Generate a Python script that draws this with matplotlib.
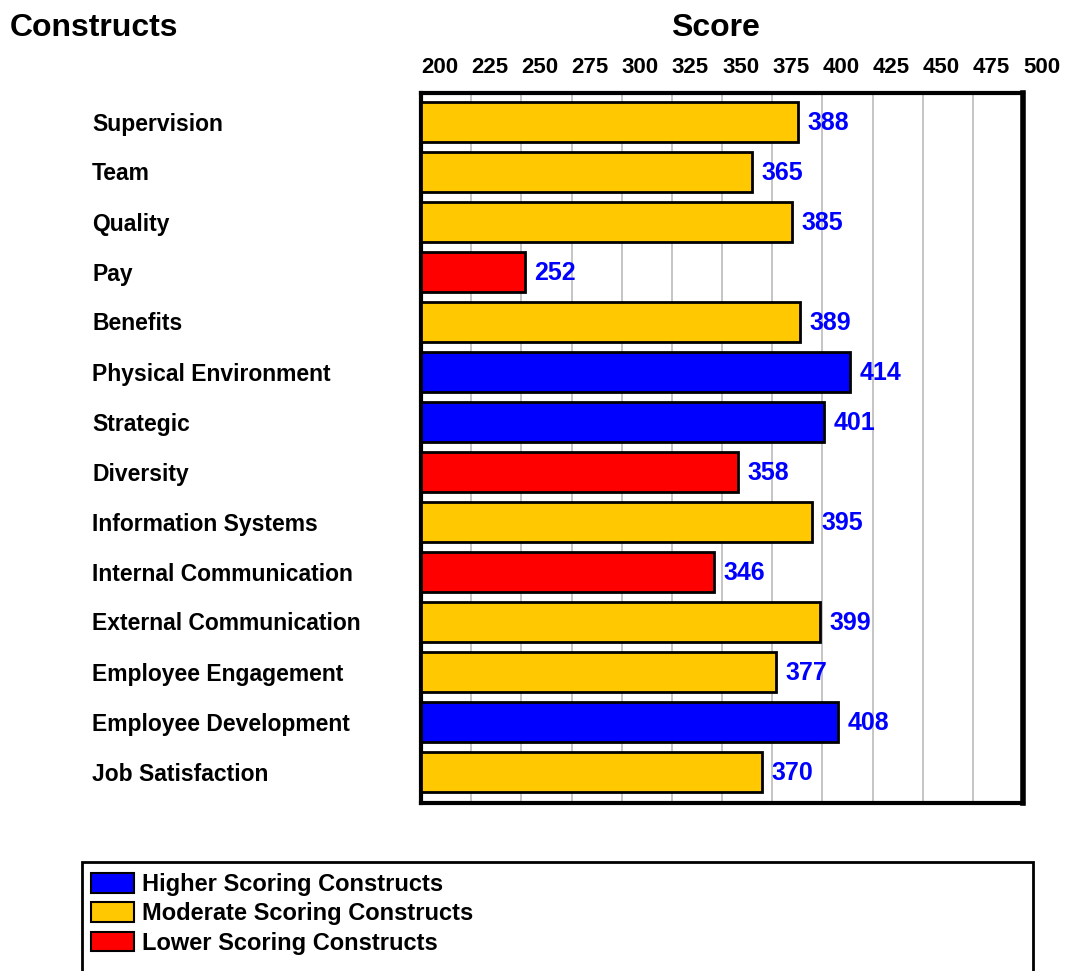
import matplotlib.pyplot as plt
from matplotlib.patches import Rectangle, Patch

plt.rcParams['font.family'] = ['Liberation Sans', 'DejaVu Sans']
plt.rcParams['font.weight'] = 'bold'

constructs = ["Supervision", "Team", "Quality", "Pay", "Benefits",
              "Physical Environment", "Strategic", "Diversity",
              "Information Systems", "Internal Communication",
              "External Communication", "Employee Engagement",
              "Employee Development", "Job Satisfaction"]
scores = [388, 365, 385, 252, 389, 414, 401, 358, 395, 346, 399, 377, 408, 370]
groups = ["mod", "mod", "mod", "low", "mod", "high", "high", "low",
          "mod", "low", "mod", "mod", "high", "mod"]
xticks = list(range(200, 501, 25))

colors = {"high": "#0000FF", "mod": "#FFC800", "low": "#FF0000"}
legend_labels = {"high": "Higher Scoring Constructs",
                 "mod": "Moderate Scoring Constructs",
                 "low": "Lower Scoring Constructs"}

W, H = 1065, 971
fig = plt.figure(figsize=(W / 100, H / 100), dpi=100)
ax = fig.add_axes([421 / W, 1 - 803 / H, 602 / W, 710 / H])

ypos = list(range(len(constructs)))
ax.barh(ypos, [s - 200 for s in scores], left=200, height=0.8,
        color=[colors[g] for g in groups], edgecolor="black", linewidth=2, zorder=3)
for y, s in zip(ypos, scores):
    ax.text(s + 4.5, y - 0.04, str(s), color="#0000FF", fontsize=18,
            fontweight="bold", va="center_baseline", ha="left", zorder=4)

ax.set_xlim(200, 500)
ax.set_ylim(13.62, -0.58)
ax.set_xticks(xticks)
ax.xaxis.tick_top()
ax.tick_params(axis="x", length=0, pad=11, labelsize=16)
for lab in ax.get_xticklabels():
    lab.set_fontweight("bold")
    lab.set_horizontalalignment("left")
ax.grid(axis="x", color="#BBBBBB", linewidth=1.2, zorder=0)
ax.set_yticks([])
for sp in ax.spines.values():
    sp.set_linewidth(3)
ax.spines["right"].set_linewidth(4)

for y, name in zip(ypos, constructs):
    fig.text(92 / W, 1 - (121.5 + 50 * y) / H, name,
             fontsize=16.5, fontweight="bold", va="center_baseline", ha="left")

fig.text(10 / W, 1 - 25 / H, "Constructs", fontsize=23, fontweight="bold",
         va="center_baseline", ha="left")
fig.text(715 / W, 1 - 25 / H, "Score", fontsize=23, fontweight="bold",
         va="center_baseline", ha="center")

# legend box
fig.patches.append(Rectangle((82 / W, -0.01), (1033 - 82) / W, 1 - 862 / H + 0.01,
                             transform=fig.transFigure, fill=False,
                             edgecolor="black", linewidth=2))
handles = [Patch(facecolor=colors[k], edgecolor="black", linewidth=1.5,
                 label=legend_labels[k]) for k in ["high", "mod", "low"]]
leg = fig.legend(handles=handles, loc="upper left",
                 bbox_to_anchor=(91 / W, 1 - 873 / H), frameon=False,
                 fontsize=17, handlelength=1.8, handleheight=0.9,
                 labelspacing=0.27, handletextpad=0.38, borderpad=0,
                 borderaxespad=0)
for t in leg.get_texts():
    t.set_fontweight("bold")

fig.savefig("out.png", dpi=100)
